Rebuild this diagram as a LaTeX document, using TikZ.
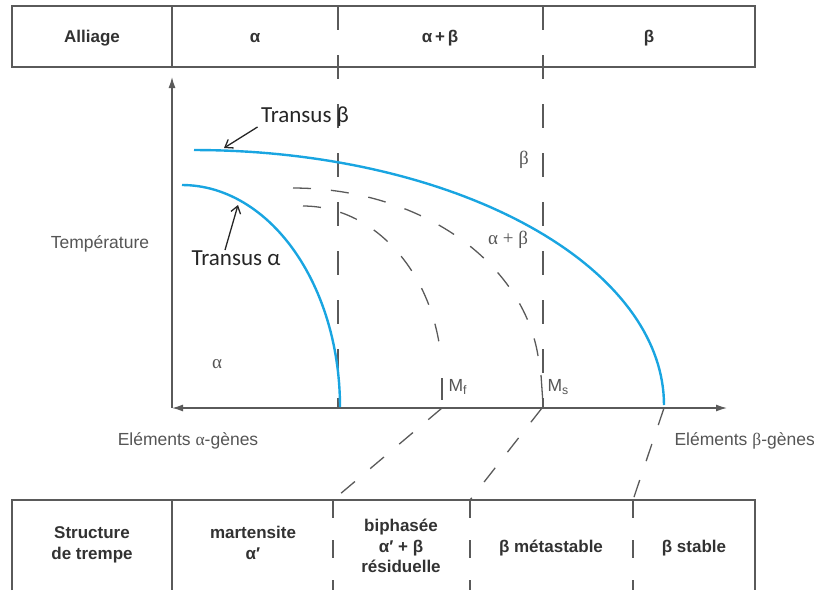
\documentclass[tikz,border=0pt]{standalone}
\usepackage{fontspec}
\setmainfont{Liberation Sans}
\newfontfamily\grk{Liberation Serif}
\newfontfamily\trfont{Carlito}
\usetikzlibrary{arrows.meta,positioning}
\definecolor{ink}{RGB}{50,50,50}
\definecolor{soft}{RGB}{85,85,85}
\definecolor{rule}{RGB}{90,90,90}
\definecolor{transus}{RGB}{25,165,225}
\tikzset{
  cell/.style={font=\fontsize{17}{20.5}\selectfont\bfseries,text=ink,align=center},
  lbl/.style={font=\fontsize{17.5}{20}\selectfont,text=soft},
  grk/.style={font=\fontsize{19}{20}\selectfont\grk,text=soft},
  tlbl/.style={font=\fontsize{23}{25}\selectfont\trfont,text=black!85},
  frame/.style={draw=rule,line width=1.3pt},
  sep/.style={draw=rule,line width=1.3pt,dash pattern=on 24pt off 25pt},
  sepb/.style={draw=rule,line width=1.3pt,dash pattern=on 18pt off 22pt},
  mline/.style={draw=rule,line width=1.3pt,dash pattern=on 18pt off 20pt},
  boundary/.style={draw=transus,line width=2.4pt},
  axis/.style={draw=rule,line width=1.3pt},
  ptr/.style={draw=black!85,line width=1.3pt,-{Straight Barb[length=7pt,width=10pt]}},
}
\begin{document}
\begin{tikzpicture}[x=1pt,y=-1pt]
  \useasboundingbox (0,0) rectangle (814,590);
  % alloy row
  \draw[frame] (12,6) rectangle (755,67) (172,6) -- (172,67);
  \node[cell] (alliage) at (92,38) {Alliage};
  \node[cell] (ca) at (255,38) {α};
  \node[cell] (cab) at (440,38) {α\,+\,β};
  \node[cell] (cb) at (649,38) {β};
  % axes
  \coordinate (O) at (172,408);
  \coordinate (Ty) at (172,77);
  \coordinate (Ex) at (727,408);
  \draw[axis,-{Latex[length=11pt,width=7pt]}] (O) -- (Ty);
  \draw[axis,{Latex[length=11pt,width=7pt]}-{Latex[length=11pt,width=7pt]}] (O) -- (Ex);
  % domain limits
  \draw[sep] (338,6) -- (338,408);
  \draw[sep] (543,6) -- (543,408);
  % transus curves
  \draw[boundary] plot[domain=90:0,samples=70,variable=\t] ({194+470*cos(\t)},{405-255*sin(\t)});
  \draw[boundary] plot[domain=90:0,samples=60,variable=\t] ({182+158*cos(\t)},{407-222*sin(\t)});
  % martensite start / finish
  \draw[mline] plot[domain=90:4,samples=60,variable=\t] ({293+247*cos(\t)},{380-192*sin(\t)});
  \draw[mline] plot[domain=90:6,samples=50,variable=\t] ({303+139*cos(\t)},{378-172*sin(\t)});
  \draw[axis] (442,378) -- (442,400);
  \draw[axis] (541,375) -- (543,404);
  \node[lbl,anchor=west] (mf) at (445,387) {M\textsubscript{f}};
  \node[lbl,anchor=west] (ms) at (544,387) {M\textsubscript{s}};
  % labels
  \node[lbl] (temp) at (100,244) {Température};
  \node[grk] (ra) at (217,364) {α};
  \node[grk] (rb) at (524,160) {β};
  \node[grk] (rab) at (508,240) {α + β};
  \node[tlbl] (trb) at (305,117) {Transus β};
  \node[tlbl] (tra) at (236,258) {Transus α};
  \coordinate (trbpt) at (224,148);
  \coordinate (trapt) at (238,205);
  \draw[ptr] ([yshift=-10pt]trb.west) -- (trbpt);
  \draw[ptr] ([xshift=-11pt,yshift=-3pt]tra.north) -- (trapt);
  \node[lbl] (ealpha) at (188,441) {Eléments {\grk α}-gènes};
  \node[lbl,anchor=west] (ebeta) at (671,441) {Eléments {\grk β}-gènes};
  % projection onto quench table
  \draw[mline] (442,408) -- (333,500);
  \draw[mline] (542,408) -- (470,500);
  \draw[mline] (664,408) -- (633,500);
  % quench structure row
  \draw[frame] (12,590) -- (12,500) -- (755,500) -- (755,590) (172,500) -- (172,590);
  \draw[sepb] (333,500) -- (333,590);
  \draw[sepb] (470,500) -- (470,590);
  \draw[sepb] (633,500) -- (633,590);
  \node[cell] (struct) at (92,545) {Structure\\de trempe};
  \node[cell] (mart) at (253,543) {martensite\\α′};
  \node[cell] (biph) at (401,546) {biphasée\\α′ + β\\résiduelle};
  \node[cell] (meta) at (551,548) {β métastable};
  \node[cell] (stab) at (694,548) {β stable};
\end{tikzpicture}
\end{document}
